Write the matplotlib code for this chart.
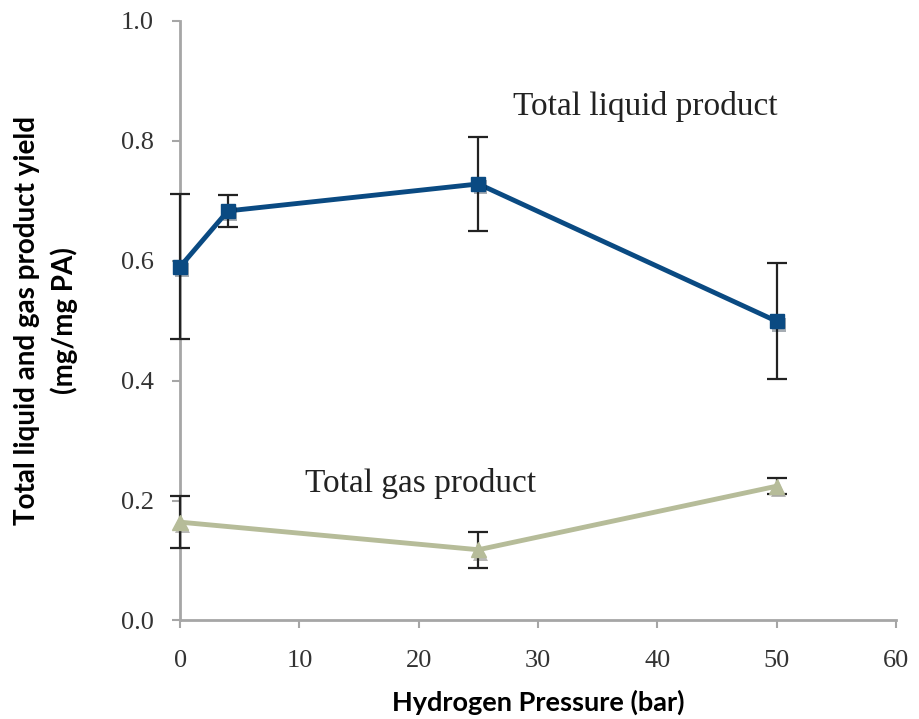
import matplotlib
matplotlib.use("Agg")
import matplotlib.pyplot as plt
import matplotlib.patheffects as pe

liquid_x = [0, 4, 25, 50]
liquid_y = [0.59, 0.683, 0.728, 0.499]
liquid_err = [0.121, 0.026, 0.079, 0.097]

gas_x = [0, 25, 50]
gas_y = [0.164, 0.118, 0.224]
gas_err = [0.043, 0.030, 0.013]

x_ticks = [0, 10, 20, 30, 40, 50, 60]
y_ticks = [0.0, 0.2, 0.4, 0.6, 0.8, 1.0]

fig = plt.figure(figsize=(9.19, 7.19), dpi=100)
ax = fig.add_axes([0.196, 0.137, 0.779, 0.834])

shadow = [pe.SimplePatchShadow(offset=(1.5, -2.5), alpha=0.35), pe.Normal()]

ax.errorbar(liquid_x, liquid_y, yerr=liquid_err, fmt='none', ecolor='#222222',
            elinewidth=1.6, capsize=7, capthick=1.6, zorder=2, clip_on=False)
ax.plot(liquid_x, liquid_y, color='#0a4a82', linewidth=3.5, zorder=3, clip_on=False)
ax.plot(liquid_x, liquid_y, linestyle='none', color='#0a4a82', marker='s',
        markersize=10, zorder=4, path_effects=shadow, clip_on=False)

ax.errorbar(gas_x, gas_y, yerr=gas_err, fmt='none', ecolor='#222222',
            elinewidth=1.6, capsize=7, capthick=1.6, zorder=2, clip_on=False)
ax.plot(gas_x, gas_y, color='#b6bc99', linewidth=3.5, zorder=3, clip_on=False)
ax.plot(gas_x, gas_y, linestyle='none', color='#b6bc99', marker='^',
        markersize=11, zorder=4, path_effects=shadow, clip_on=False)

ax.set_xlim(0, 60)
ax.set_ylim(0, 1.0)
ax.set_xticks(x_ticks)
ax.set_yticks(y_ticks)
ax.set_xticklabels([str(t) for t in x_ticks], fontfamily='Liberation Serif', fontsize=19, color='#333333')
ax.set_yticklabels([f"{t:.1f}" for t in y_ticks], fontfamily='Liberation Serif', fontsize=19, color='#333333')

for s in ['top', 'right']:
    ax.spines[s].set_visible(False)
for s in ['left', 'bottom']:
    ax.spines[s].set_color('#a6a6a6')
    ax.spines[s].set_linewidth(2)
ax.spines['left'].set_zorder(1)
ax.tick_params(axis='both', direction='out', length=6, width=1.5, color='#a6a6a6')
ax.tick_params(axis='y', pad=13)
ax.tick_params(axis='x', pad=15)

ax.text(27.9, 0.857, 'Total liquid product', fontfamily='Liberation Serif', fontsize=24,
        va='center', ha='left', color='#222222')
ax.text(10.5, 0.229, 'Total gas product', fontfamily='Liberation Serif', fontsize=24,
        va='center', ha='left', color='#222222')

ax.set_xlabel('Hydrogen Pressure (bar)', fontfamily='Lato', fontweight='bold',
              fontsize=19.5, labelpad=13)
ax.set_ylabel('Total liquid and gas product yield\n(mg/mg PA)', fontfamily='Lato',
              fontweight='bold', fontsize=20, labelpad=31, linespacing=1.45)

fig.savefig('out.png', dpi=100)
